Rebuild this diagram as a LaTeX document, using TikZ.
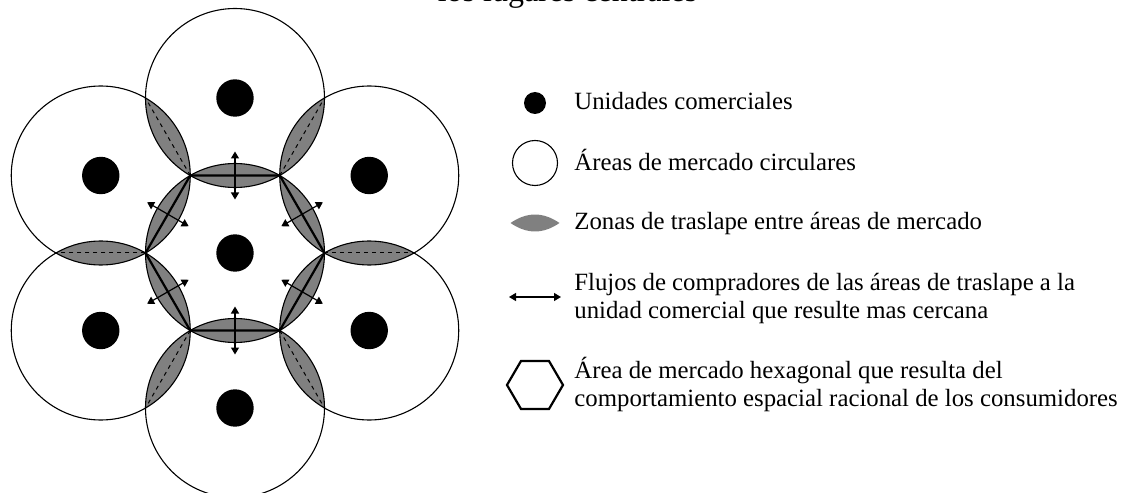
\documentclass[tikz,border=0pt]{standalone}
\usepackage{fontspec}
\setmainfont{Liberation Serif}
\usetikzlibrary{arrows.meta,positioning}

\begin{document}
\begin{tikzpicture}[
    x=0.5pt, y=0.5pt,
    area/.style={draw, line width=0.55pt},
    traslape/.style={fill=gray},
    unidad/.style={circle, fill=black, inner sep=0pt, minimum size=18.7pt},
    hexagono/.style={line width=1.1pt},
    flujo/.style={{Triangle[length=3.5pt,width=4pt]}-{Triangle[length=3.5pt,width=4pt]}, line width=0.6pt},
    limite/.style={dash pattern=on 2pt off 2pt, line width=0.5pt},
    texto/.style={anchor=base west, align=left, inner sep=0pt, font=\fontsize{12.4}{14}\selectfont}
]
\useasboundingbox (-235,-240) rectangle (891,253);

% Title (cut off at the top)
\node[anchor=base, inner sep=0pt, font=\fontsize{16}{19}\selectfont] (titulo) at (332.5,251) {los lugares centrales};

% Centres
\coordinate (c0) at (0,0);
\foreach \a [count=\i] in {90,30,-30,-90,-150,150}
    \coordinate (c\i) at (\a:155);

% Overlap zones
\foreach \i/\j in {1/2,2/3,3/4,4/5,5/6,6/1} {
    \begin{scope}
        \clip (c\i) circle (89.5);
        \fill[traslape] (c0) circle (89.5);
        \fill[traslape] (c\j) circle (89.5);
    \end{scope}
}

% Market areas
\foreach \i in {0,...,6}
    \draw[area] (c\i) circle (89.5);

% Dashed limits between outer areas
\foreach \a in {0,60,...,300}
    \draw[limite] (\a:89.5) -- (\a:179);

% Hexagon
\draw[hexagono] (0:89.5) \foreach \a in {60,120,...,300} {-- (\a:89.5)} -- cycle;

% Flows
\foreach \a in {30,90,...,330}
    \draw[flujo] (\a:53.5) -- (\a:101.5);

% Units
\foreach \i in {0,...,6}
    \node[unidad] (u\i) at (c\i) {};

% Legend
\node[unidad, minimum size=11pt] (leyUnidad) at (300,150) {};
\node[texto] (txtUnidad) at (339,143) {Unidades comerciales};

\node[draw, circle, line width=0.55pt, inner sep=0pt, minimum size=22.5pt] (leyArea) at (300,90) {};
\node[texto] (txtArea) at (339,83) {Áreas de mercado circulares};

\fill[traslape] (275.5,30) .. controls (292,41.3) and (308,41.3) .. (324.5,30)
    .. controls (308,18.7) and (292,18.7) .. cycle;
\node[texto] (txtTraslape) at (339,23) {Zonas de traslape entre áreas de mercado};

\coordinate (flujoA) at (274,-44);
\coordinate (flujoB) at (326,-44);
\draw[flujo] (flujoA) -- (flujoB);
\node[texto] (txtFlujo) at (339,-65) {Flujos de compradores de las áreas de traslape a la\\unidad comercial que resulte mas cercana};

\draw[hexagono] (328,-132) -- (314,-108) -- (286,-108) -- (272,-132) -- (286,-156) -- (314,-156) -- cycle;
\node[texto] (txtHexagono) at (339,-153) {Área de mercado hexagonal que resulta del\\comportamiento espacial racional de los consumidores};

\end{tikzpicture}
\end{document}
